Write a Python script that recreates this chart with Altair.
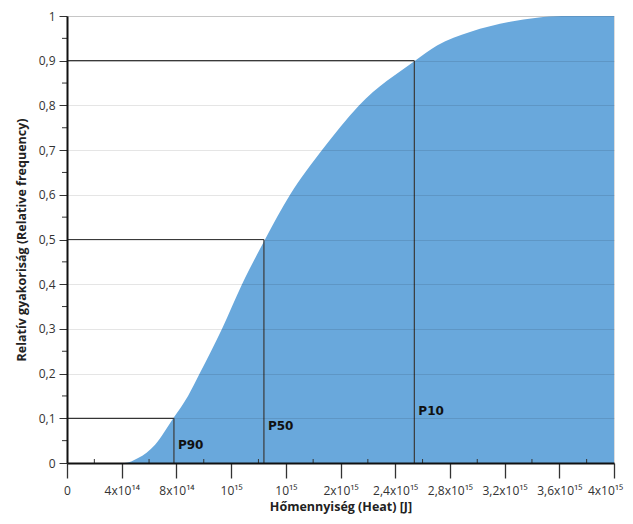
import json
import altair as alt
import pandas as pd

# Cumulative curve (heat in units of 1e15 J)
heat = [0.0, 0.42, 0.52, 0.644, 0.777, 0.885, 0.97, 1.133, 1.28, 1.448, 1.631, 1.865,
        2.135, 2.545, 2.706, 2.947, 3.24, 3.437, 3.62, 4.0]
freq = [0.0, 0.0, 0.011, 0.041, 0.1, 0.15, 0.2, 0.3, 0.4, 0.5, 0.6, 0.7,
        0.8, 0.9, 0.934, 0.964, 0.987, 0.996, 1.0, 1.0]

x_ticks = [0, 0.4, 0.8, 1.2, 1.6, 2.0, 2.4, 2.8, 3.2, 3.6, 4.0]
x_labels = ["0", "4x10¹⁴", "8x10¹⁴", "10¹⁵", "10¹⁵", "2x10¹⁵", "2,4x10¹⁵",
            "2,8x10¹⁵", "3,2x10¹⁵", "3,6x10¹⁵", "4x10¹⁵"]
x_minor = [0.2, 0.6, 1.0, 1.4, 1.8, 2.2, 2.6, 3.0, 3.4, 3.8]
y_ticks = [0, 0.1, 0.2, 0.3, 0.4, 0.5, 0.6, 0.7, 0.8, 0.9, 1.0]
y_minor = [0.05, 0.15, 0.25, 0.35, 0.45, 0.55, 0.65, 0.75, 0.85, 0.95]

p_names = ["P90", "P50", "P10"]
p_heat = [0.782, 1.44, 2.54]
p_freq = [0.1, 0.5, 0.9]
p_label_freq = [0.04, 0.083, 0.116]

curve = pd.DataFrame({"heat": heat, "freq": freq})
pdf = pd.DataFrame({"name": p_names, "heat": p_heat, "freq": p_freq,
                    "lab": p_label_freq, "zero": [0.0] * 3})
xminor_df = pd.DataFrame({"v": x_minor})
yminor_df = pd.DataFrame({"v": y_minor})

FONT = "Open Sans"
xs = alt.Scale(domain=[0, 4], nice=False, zero=False)
ys = alt.Scale(domain=[0, 1], nice=False)

label_expr_x = json.dumps(x_labels) + "[round(datum.value / 0.4)]"
label_expr_y = "replace(format(datum.value, '.1~f'), '.', ',')"

area = alt.Chart(curve).mark_area(color="#69a8dc", interpolate="monotone").encode(
    x=alt.X("heat:Q", scale=xs, axis=alt.Axis(
        values=x_ticks, labelExpr=label_expr_x, title="Hőmennyiség (Heat) [J]",
        grid=False, tickSize=15, tickColor="#333", tickWidth=1.3,
        domainColor="#111", domainWidth=2, labelPadding=7, labelFontSize=12,
        labelColor="#333", labelFont=FONT, titleFont=FONT, titleFontSize=12.5,
        titleFontWeight="bold", titleColor="#222", titlePadding=4, zindex=1,
        labelFlush=False,
        labelOffset=alt.condition("datum.value >= 3.99", alt.value(-9), alt.value(0)))),
    y=alt.Y("freq:Q", scale=ys, axis=alt.Axis(
        values=y_ticks, labelExpr=label_expr_y,
        title="Relatív gyakoriság (Relative frequency)",
        grid=True, gridColor="#000", gridOpacity=0.1, tickSize=8, tickColor="#333",
        domainColor="#111", domainWidth=2, labelPadding=4, labelFontSize=12,
        labelColor="#333", labelFont=FONT, titleFont=FONT, titleFontSize=12.5,
        titleFontWeight="bold", titleColor="#222", titlePadding=10, zindex=1)),
)

hlines = alt.Chart(pdf).mark_rule(color="#3a3a3a", strokeWidth=1.2).encode(
    x=alt.X("zero:Q", scale=xs), x2="heat:Q", y=alt.Y("freq:Q", scale=ys))
vlines = alt.Chart(pdf).mark_rule(color="#3a3a3a", strokeWidth=1.2).encode(
    x=alt.X("heat:Q", scale=xs), y=alt.Y("zero:Q", scale=ys), y2="freq:Q")
labels = alt.Chart(pdf).mark_text(
    align="left", baseline="middle", dx=4, font="DejaVu Sans", fontWeight="bold",
    fontSize=12, color="#111").encode(
    x=alt.X("heat:Q", scale=xs), y=alt.Y("lab:Q", scale=ys), text="name:N")

xminor = alt.Chart(xminor_df).mark_rule(color="#333", strokeWidth=1).encode(
    x=alt.X("v:Q", scale=xs), y=alt.value(443), y2=alt.value(447))
yminor = alt.Chart(yminor_df).mark_rule(color="#333", strokeWidth=1).encode(
    y=alt.Y("v:Q", scale=ys), x=alt.value(-5), x2=alt.value(0))

chart = alt.layer(area, hlines, vlines, labels, xminor, yminor).properties(
    width=547, height=447,
    autosize=alt.AutoSizeParams(type="none"),
    padding={"left": 59, "top": 8, "right": 11, "bottom": 53},
).configure_view(stroke=None).configure(background="white")

chart.save("out.html", embed_options={"renderer": "svg", "actions": False})
